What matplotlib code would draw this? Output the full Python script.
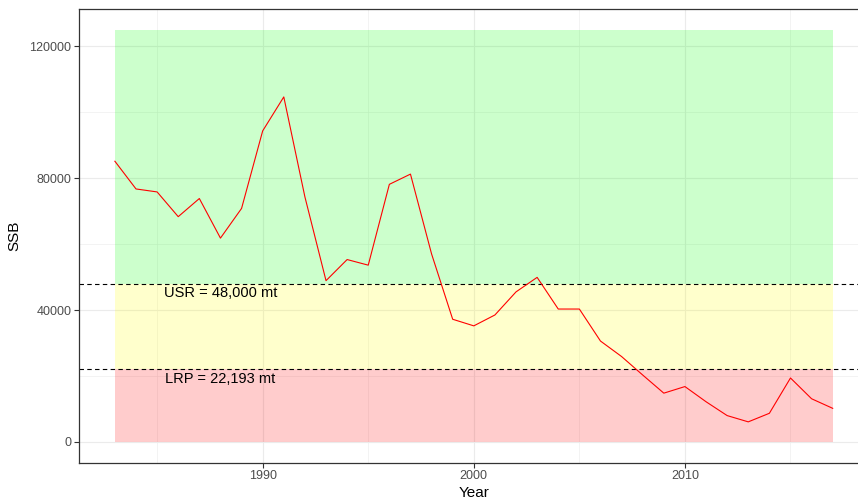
import matplotlib
matplotlib.use("Agg")
import matplotlib.pyplot as plt
from matplotlib.ticker import FixedLocator

plt.rcParams['font.family'] = ['Liberation Sans', 'DejaVu Sans']

years = list(range(1983, 2018))
ssb = [85100, 76700, 75800, 68300, 73800, 61800, 70800, 94300, 104600, 74300,
       48900, 55300, 53600, 78100, 81200, 57000, 37200, 35200, 38500, 45500,
       49900, 40300, 40300, 30600, 25900, 20300, 14800, 16800, 12200, 8000,
       6100, 8700, 19400, 13100, 10200]

usr = 48000
lrp = 22193
zone_top = 125000
zone_labels = ["USR = 48,000 mt", "LRP = 22,193 mt"]
label_x = 1988
x_ticks = [1990, 2000, 2010]
x_minor = [1985, 1995, 2005, 2015]
y_ticks = [0, 40000, 80000, 120000]
y_minor = [20000, 60000, 100000]

fig = plt.figure(figsize=(8.58, 5.01), dpi=100)
W, H = 858, 501
left, right, top, bottom = 79, 868.6, 9, 462.6
ax = fig.add_axes([left / W, 1 - bottom / H, (right - left) / W, (bottom - top) / H])

x0, x1 = years[0], years[-1]
ax.set_xlim(1981.3, 2018.7)
ax.set_ylim(-6250, 131250)

ax.fill_between([x0, x1], usr, zone_top, color=(0, 1, 0), alpha=0.2, lw=0, zorder=1)
ax.fill_between([x0, x1], lrp, usr, color=(1, 1, 0), alpha=0.2, lw=0, zorder=1)
ax.fill_between([x0, x1], 0, lrp, color=(1, 0, 0), alpha=0.2, lw=0, zorder=1)

ax.axhline(usr, color='black', ls=(0, (4, 3)), lw=0.8, zorder=2)
ax.axhline(lrp, color='black', ls=(0, (4, 3)), lw=0.8, zorder=2)

ax.plot(years, ssb, color='red', lw=0.8, zorder=3)

ax.annotate(zone_labels[0], xy=(label_x, usr), xytext=(0, -2), textcoords='offset points',
            ha='center', va='top', fontsize=10.5, color='black', zorder=4)
ax.annotate(zone_labels[1], xy=(label_x, lrp), xytext=(0, -2), textcoords='offset points',
            ha='center', va='top', fontsize=10.5, color='black', zorder=4)

ax.xaxis.set_major_locator(FixedLocator(x_ticks))
ax.xaxis.set_minor_locator(FixedLocator(x_minor))
ax.yaxis.set_major_locator(FixedLocator(y_ticks))
ax.yaxis.set_minor_locator(FixedLocator(y_minor))
ax.set_yticklabels([str(v) for v in y_ticks])
ax.set_xticklabels([str(v) for v in x_ticks])

ax.grid(which='major', color='#EBEBEB', lw=0.8, zorder=0)
ax.grid(which='minor', color='#EBEBEB', lw=0.4, zorder=0)
ax.set_axisbelow(True)

ax.tick_params(which='major', length=3.5, width=0.8, color='#333333',
               labelsize=9, labelcolor='#4D4D4D', pad=2)
ax.tick_params(which='minor', length=0)

for s in ax.spines.values():
    s.set_color('#333333')
    s.set_linewidth(0.9)
ax.spines['right'].set_visible(False)

ax.set_xlabel("Year", fontsize=11, color='black', labelpad=3)
ax.set_ylabel("SSB", fontsize=11, color='black', labelpad=6)

fig.savefig("out.png", dpi=100)
